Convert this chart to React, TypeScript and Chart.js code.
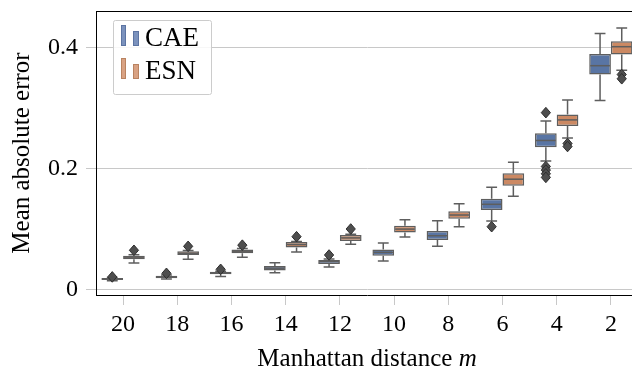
import React, { useEffect, useRef } from 'react';
import { Chart, registerables } from 'chart.js';

Chart.register(...registerables);

// ---- Data ----
const categories = ['20', '18', '16', '14', '12', '10', '8', '6', '4', '2'];

const caeMin = [0.0140, 0.0170, 0.0210, 0.0275, 0.0370, 0.0470, 0.0710, 0.1130, 0.2120, 0.3120];
const caeQ1 = [0.0152, 0.0182, 0.0248, 0.0310, 0.0418, 0.0555, 0.0815, 0.1310, 0.2347, 0.3550];
const caeMedian = [0.0170, 0.0200, 0.0270, 0.0350, 0.0460, 0.0610, 0.0886, 0.1405, 0.2460, 0.3696];
const caeQ3 = [0.0188, 0.0225, 0.0290, 0.0385, 0.0484, 0.0660, 0.0964, 0.1498, 0.2580, 0.3890];
const caeMax = [0.0195, 0.0235, 0.0300, 0.0440, 0.0500, 0.0765, 0.1134, 0.1686, 0.2780, 0.4230];
const caeOutliers = [[0.0205], [0.0264], [0.0330], [], [0.0567], [], [], [0.1035], [0.2920, 0.2030, 0.1970, 0.1910, 0.1850], []];

const esnMin = [0.0435, 0.0496, 0.0530, 0.0617, 0.0744, 0.0865, 0.1035, 0.1540, 0.2500, 0.3620];
const esnQ1 = [0.0496, 0.0567, 0.0595, 0.0690, 0.0800, 0.0940, 0.1167, 0.1710, 0.2700, 0.3880];
const esnMedian = [0.0520, 0.0595, 0.0630, 0.0740, 0.0850, 0.0995, 0.1228, 0.1820, 0.2800, 0.4010];
const esnQ3 = [0.0555, 0.0628, 0.0660, 0.0780, 0.0898, 0.1050, 0.1290, 0.1917, 0.2890, 0.4100];
const esnMax = [0.0570, 0.0640, 0.0675, 0.0790, 0.0910, 0.1150, 0.1415, 0.2100, 0.3130, 0.4320];
const esnOutliers = [[0.0645], [0.0710], [0.0730], [0.0870], [0.0997], [], [], [], [0.2410, 0.2360], [0.3550, 0.3480]];

const yTicks = [0, 0.2, 0.4];
const seriesNames = ['CAE', 'ESN'];

const series = [
  { min: caeMin, q1: caeQ1, med: caeMedian, q3: caeQ3, max: caeMax, out: caeOutliers },
  { min: esnMin, q1: esnQ1, med: esnMedian, q3: esnQ3, max: esnMax, out: esnOutliers },
];

const BOX_FILL = ['#5975a4', '#cc8963'];
const LEGEND_FILL = ['#7b92bd', '#d9a283'];
const LEGEND_EDGE = ['#5c74a2', '#b98361'];
const LINE = '#5e5e5e';
const GRID = '#c8c8c8';
const FONT = "'Liberation Serif', serif";

const boxPlugin = {
  id: 'boxplotExtras',
  beforeDatasetsDraw(chart: any) {
    const ctx = chart.ctx;
    const y = chart.scales.y;
    ctx.save();
    ctx.strokeStyle = LINE;
    ctx.lineWidth = 1.5;
    series.forEach((s, di) => {
      const meta = chart.getDatasetMeta(di);
      meta.data.forEach((bar: any, i: number) => {
        const x = bar.x;
        const w = bar.width;
        const pMin = y.getPixelForValue(s.min[i]);
        const pMax = y.getPixelForValue(s.max[i]);
        const pQ1 = y.getPixelForValue(s.q1[i]);
        const pQ3 = y.getPixelForValue(s.q3[i]);
        ctx.beginPath();
        ctx.moveTo(x, pQ1);
        ctx.lineTo(x, pMin);
        ctx.moveTo(x - w / 4, pMin);
        ctx.lineTo(x + w / 4, pMin);
        ctx.moveTo(x, pQ3);
        ctx.lineTo(x, pMax);
        ctx.moveTo(x - w / 4, pMax);
        ctx.lineTo(x + w / 4, pMax);
        ctx.stroke();
      });
    });
    ctx.restore();
  },
  afterDatasetsDraw(chart: any) {
    const ctx = chart.ctx;
    const y = chart.scales.y;
    ctx.save();
    series.forEach((s, di) => {
      const meta = chart.getDatasetMeta(di);
      meta.data.forEach((bar: any, i: number) => {
        const x = bar.x;
        const w = bar.width;
        const pMed = y.getPixelForValue(s.med[i]);
        ctx.strokeStyle = LINE;
        ctx.lineWidth = 1.5;
        ctx.beginPath();
        ctx.moveTo(x - w / 2 + 1, pMed);
        ctx.lineTo(x + w / 2 - 1, pMed);
        ctx.stroke();
        s.out[i].forEach((v: number) => {
          const py = y.getPixelForValue(v);
          ctx.beginPath();
          ctx.moveTo(x, py - 5.3);
          ctx.lineTo(x + 4.6, py);
          ctx.lineTo(x, py + 5.3);
          ctx.lineTo(x - 4.6, py);
          ctx.closePath();
          ctx.fillStyle = '#4e4e4e';
          ctx.fill();
          ctx.strokeStyle = '#2e2e2e';
          ctx.lineWidth = 1;
          ctx.stroke();
        });
      });
    });
    ctx.restore();
  },
  afterDraw(chart: any) {
    const ctx = chart.ctx;
    const a = chart.chartArea;
    ctx.save();
    // frame (top & right)
    ctx.strokeStyle = '#000';
    ctx.lineWidth = 1;
    ctx.beginPath();
    ctx.moveTo(a.left, Math.round(a.top) + 0.5);
    ctx.lineTo(a.right, Math.round(a.top) + 0.5);
    ctx.moveTo(Math.round(a.right) + 0.5, a.top);
    ctx.lineTo(Math.round(a.right) + 0.5, a.bottom);
    ctx.stroke();

    // axis titles
    ctx.fillStyle = '#000';
    ctx.textBaseline = 'alphabetic';
    const t1 = 'Manhattan distance ';
    ctx.font = `25px ${FONT}`;
    const w1 = ctx.measureText(t1).width;
    ctx.font = `italic 25px ${FONT}`;
    const w2 = ctx.measureText('m').width;
    const cx = (a.left + a.right) / 2;
    const sx = cx - (w1 + w2) / 2;
    ctx.textAlign = 'left';
    ctx.font = `25px ${FONT}`;
    ctx.fillText(t1, sx, 366);
    ctx.font = `italic 25px ${FONT}`;
    ctx.fillText('m', sx + w1, 366);

    ctx.save();
    ctx.translate(29, (a.top + a.bottom) / 2);
    ctx.rotate(-Math.PI / 2);
    ctx.textAlign = 'center';
    ctx.font = `25px ${FONT}`;
    ctx.fillText('Mean absolute error', 0, 0);
    ctx.restore();

    // legend
    const lx = a.left + 17;
    const ly = a.top + 9;
    ctx.fillStyle = 'rgba(255,255,255,0.85)';
    ctx.strokeStyle = '#cccccc';
    ctx.lineWidth = 1;
    ctx.beginPath();
    (ctx as any).roundRect(lx + 0.5, ly + 0.5, 98, 74, 2);
    ctx.fill();
    ctx.stroke();
    seriesNames.forEach((name, k) => {
      const oy = ly + k * 33;
      ctx.fillStyle = LEGEND_FILL[k];
      ctx.strokeStyle = LEGEND_EDGE[k];
      ctx.lineWidth = 1;
      ctx.fillRect(lx + 8, oy + 5, 5, 21);
      ctx.strokeRect(lx + 8.5, oy + 5.5, 4, 20);
      ctx.fillRect(lx + 20, oy + 11, 6, 15);
      ctx.strokeRect(lx + 20.5, oy + 11.5, 5, 14);
      ctx.fillStyle = '#000';
      ctx.font = `27px ${FONT}`;
      ctx.textAlign = 'left';
      ctx.fillText(name, lx + 32, oy + 26);
    });
    ctx.restore();
  },
};

export default function App() {
  const ref = useRef<HTMLCanvasElement | null>(null);
  useEffect(() => {
    if (!ref.current) return;
    const chart = new Chart(ref.current, {
      type: 'bar',
      data: {
        labels: categories,
        datasets: series.map((s, k) => ({
          label: seriesNames[k],
          data: s.q1.map((q, i) => [q, s.q3[i]]),
          backgroundColor: BOX_FILL[k],
          borderColor: LINE,
          borderWidth: 1.5,
          borderSkipped: false,
          barPercentage: 1,
          categoryPercentage: 0.8,
        })),
      },
      options: {
        responsive: false,
        animation: false,
        devicePixelRatio: 1,
        layout: { padding: { left: 0, top: 11, right: 10, bottom: 0 } },
        plugins: { legend: { display: false }, tooltip: { enabled: false } },
        scales: {
          x: {
            offset: true,
            grid: { display: true, drawOnChartArea: false, drawTicks: true, tickLength: 10, tickColor: GRID, offset: false },
            border: { display: true, color: '#000', width: 1 },
            ticks: { color: '#000', font: { family: FONT, size: 24 }, padding: 5, maxRotation: 0 },
            afterFit: (scale: any) => {
              scale.height = 77;
              scale.paddingLeft = 0;
              scale.paddingRight = 0;
            },
          },
          y: {
            min: -0.0094,
            max: 0.46,
            grid: { color: GRID, lineWidth: 1, drawTicks: true, tickLength: 10, tickColor: GRID },
            border: { display: true, color: '#000', width: 1 },
            ticks: {
              color: '#000',
              font: { family: FONT, size: 24 },
              padding: 8,
              callback: (v: any) => (v === 0 ? '0' : Number(v).toFixed(1)),
            },
            afterBuildTicks: (axis: any) => { axis.ticks = yTicks.map((v) => ({ value: v })); },
            afterFit: (scale: any) => {
              scale.width = 96;
              scale.paddingTop = 0;
              scale.paddingBottom = 0;
            },
          },
        },
      },
      plugins: [boxPlugin],
    });
    return () => chart.destroy();
  }, []);
  return (
    <div style={{ position: 'absolute', left: 0, top: 0, width: 632, height: 372, overflow: 'hidden' }}>
      <canvas ref={ref} width={648} height={372} style={{ display: 'block' }} />
    </div>
  );
}
